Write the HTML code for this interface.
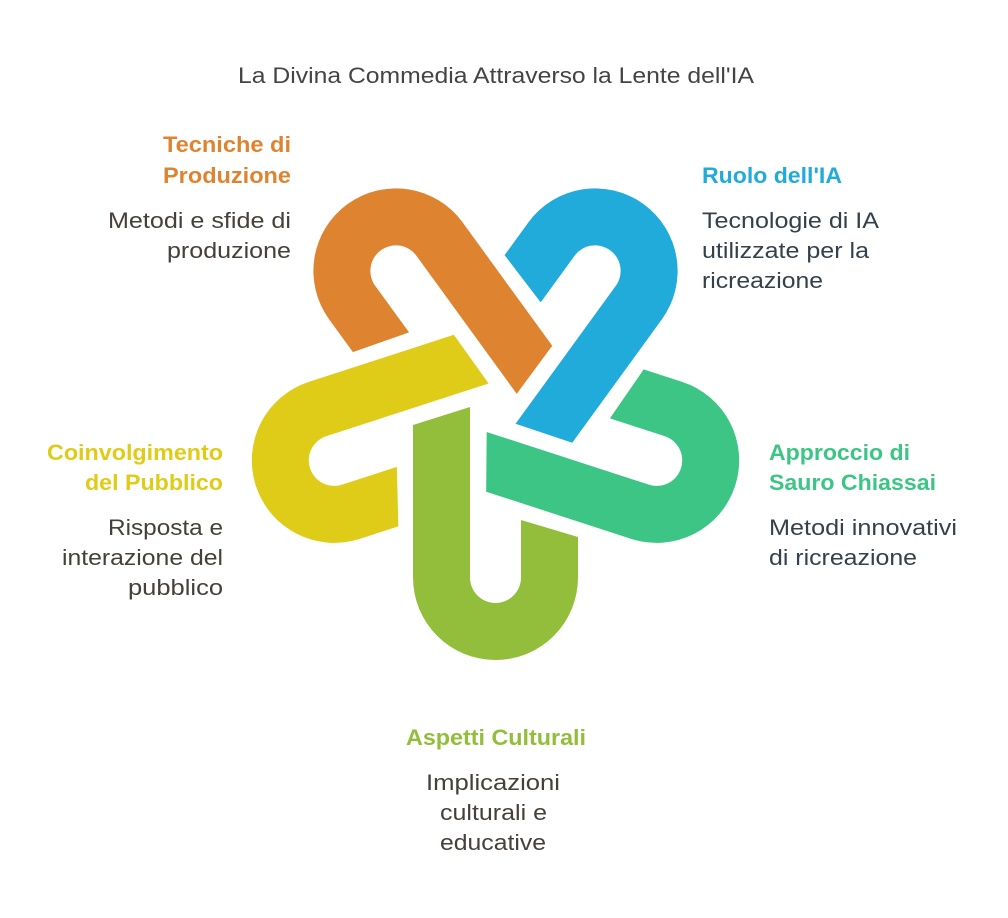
<!DOCTYPE html>
<html><head><meta charset="utf-8"><style>
html,body{margin:0;padding:0;background:#fff;}
svg{display:block;}
text{font-family:"Liberation Sans",Arial,sans-serif;font-size:22px;}
.h{font-weight:bold;}
.b{fill:#46403a;}
.c{fill:#34414a;}
</style></head><body>
<svg width="1008" height="918" viewBox="0 0 1008 918" xmlns="http://www.w3.org/2000/svg">
<defs>
<path id="u" d="M -82.5 17 L -25.5 -1 L -25.5 169.5 A 25.5 25.5 0 0 0 25.5 169.5 L 25.5 112 L 82.5 129 L 82.5 169.5 A 82.5 82.5 0 0 1 -82.5 169.5 Z"/>
</defs>
<g transform="translate(495.5,408)">
<use href="#u" fill="#93BE3B"/>
<use href="#u" fill="#DE8431" transform="rotate(144)"/>
<use href="#u" fill="#21ABDA" transform="rotate(216)"/>
<use href="#u" fill="#3DC585" transform="rotate(288)"/>
<use href="#u" fill="#DFCC18" transform="rotate(72)"/>
</g>
<g lengthAdjust="spacingAndGlyphs">
<text x="238" y="83" fill="#444" textLength="516" lengthAdjust="spacingAndGlyphs">La Divina Commedia Attraverso la Lente dell'IA</text>

<text class="h" x="163" y="152" fill="#DE8431" textLength="128" lengthAdjust="spacingAndGlyphs">Tecniche di</text>
<text class="h" x="163" y="183" fill="#DE8431" textLength="128" lengthAdjust="spacingAndGlyphs">Produzione</text>
<text class="b" x="108" y="228" textLength="183" lengthAdjust="spacingAndGlyphs">Metodi e sfide di</text>
<text class="b" x="167" y="258" textLength="124" lengthAdjust="spacingAndGlyphs">produzione</text>

<text class="h" x="47" y="460" fill="#DFCC18" textLength="176" lengthAdjust="spacingAndGlyphs">Coinvolgimento</text>
<text class="h" x="85" y="490" fill="#DFCC18" textLength="138" lengthAdjust="spacingAndGlyphs">del Pubblico</text>
<text class="b" x="108" y="535" textLength="115" lengthAdjust="spacingAndGlyphs">Risposta e</text>
<text class="b" x="62" y="565" textLength="161" lengthAdjust="spacingAndGlyphs">interazione del</text>
<text class="b" x="128" y="595" textLength="95" lengthAdjust="spacingAndGlyphs">pubblico</text>

<text class="h" x="702" y="183" fill="#21ABDA" textLength="140" lengthAdjust="spacingAndGlyphs">Ruolo dell'IA</text>
<text class="c" x="702" y="228" textLength="177" lengthAdjust="spacingAndGlyphs">Tecnologie di IA</text>
<text class="c" x="702" y="258" textLength="167" lengthAdjust="spacingAndGlyphs">utilizzate per la</text>
<text class="c" x="702" y="288" textLength="121" lengthAdjust="spacingAndGlyphs">ricreazione</text>

<text class="h" x="769" y="460" fill="#3DC585" textLength="141" lengthAdjust="spacingAndGlyphs">Approccio di</text>
<text class="h" x="769" y="490" fill="#3DC585" textLength="167" lengthAdjust="spacingAndGlyphs">Sauro Chiassai</text>
<text class="c" x="769" y="535" textLength="188" lengthAdjust="spacingAndGlyphs">Metodi innovativi</text>
<text class="c" x="769" y="565" textLength="148" lengthAdjust="spacingAndGlyphs">di ricreazione</text>

<text class="h" x="406" y="745" fill="#93BE3B" textLength="180" lengthAdjust="spacingAndGlyphs">Aspetti Culturali</text>
<text class="b" x="426" y="790" textLength="134" lengthAdjust="spacingAndGlyphs">Implicazioni</text>
<text class="b" x="440" y="820" textLength="107" lengthAdjust="spacingAndGlyphs">culturali e</text>
<text class="b" x="440" y="850" textLength="106" lengthAdjust="spacingAndGlyphs">educative</text>
</g>
</svg>
</body></html>
